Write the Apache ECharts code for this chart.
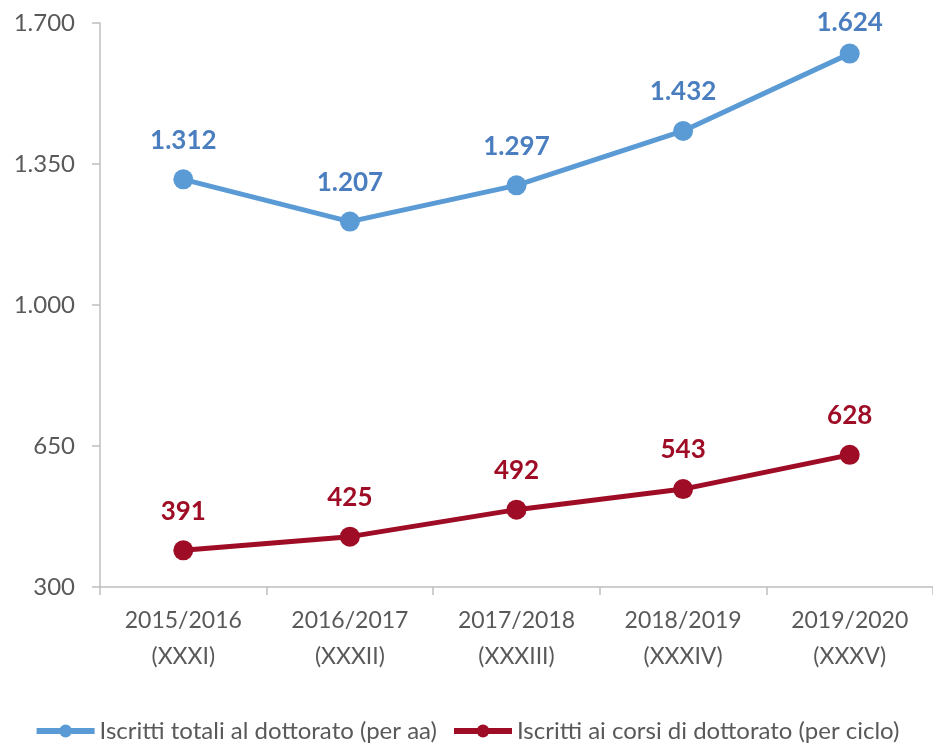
<!DOCTYPE html>
<html>
<head>
<meta charset="utf-8">
<script src="https://cdn.jsdelivr.net/npm/echarts@6/dist/echarts.min.js"></script>
<style>
  html, body { margin: 0; padding: 0; background: #fff; }
  #main { width: 933px; height: 748px; }
</style>
</head>
<body>
<div id="main"></div>
<script>
// anni accademici (ciclo)
var categories = ['2015/2016\n(XXXI)', '2016/2017\n(XXXII)', '2017/2018\n(XXXIII)', '2018/2019\n(XXXIV)', '2019/2020\n(XXXV)'];
var totali = [1312, 1207, 1297, 1432, 1624];
var perCiclo = [391, 425, 492, 543, 628];
var seriesNames = ['Iscritti totali al dottorato (per aa)', 'Iscritti ai corsi di dottorato (per ciclo)'];

function fmt(v) {
  // separatore migliaia italiano
  return String(v).replace(/\B(?=(\d{3})+(?!\d))/g, '.');
}

// ultima etichetta più vicina al punto (come nell'originale, per stare nel riquadro)
var totaliData = totali.map(function (v, i) {
  return i === totali.length - 1 ? { value: v, label: { distance: 8 } } : v;
});

var chart = echarts.init(document.getElementById('main'));

chart.setOption({
  animation: false,
  textStyle: { fontFamily: 'Lato' },
  grid: { left: 100, right: -2, top: 23, bottom: 161 },
  legend: {
    bottom: 0,
    left: 'center',
    itemWidth: 58,
    itemHeight: 16,
    itemGap: 14,
    lineStyle: { width: 6 },
    textStyle: { fontSize: 24, color: '#595959', fontFamily: 'Lato' },
    data: seriesNames
  },
  xAxis: {
    type: 'category',
    data: categories,
    axisLine: { lineStyle: { color: '#bfbfbf', width: 1.5 } },
    axisTick: { show: true, length: 8, lineStyle: { color: '#bfbfbf', width: 1.5 } },
    axisLabel: { fontSize: 23, color: '#595959', lineHeight: 36, margin: 16 }
  },
  yAxis: {
    type: 'value',
    min: 300,
    max: 1700,
    interval: 350,
    axisLine: { show: true, lineStyle: { color: '#bfbfbf', width: 1.5 } },
    axisTick: { show: true, length: 8, lineStyle: { color: '#bfbfbf', width: 1.5 } },
    splitLine: { show: false },
    axisLabel: { fontSize: 24, color: '#595959', margin: 25, formatter: fmt }
  },
  series: [
    {
      name: seriesNames[0],
      type: 'line',
      data: totaliData,
      symbol: 'circle',
      symbolSize: 20,
      lineStyle: { width: 5, color: '#5b9bd5' },
      itemStyle: { color: '#5b9bd5' },
      label: {
        show: true,
        position: 'top',
        distance: 16,
        fontSize: 26,
        fontWeight: 'bold',
        color: '#4a7ebf',
        formatter: function (p) { return fmt(p.value); }
      }
    },
    {
      name: seriesNames[1],
      type: 'line',
      data: perCiclo,
      symbol: 'circle',
      symbolSize: 20,
      lineStyle: { width: 5, color: '#9e0d25' },
      itemStyle: { color: '#9e0d25' },
      label: {
        show: true,
        position: 'top',
        distance: 16,
        fontSize: 26,
        fontWeight: 'bold',
        color: '#9e0d25',
        formatter: function (p) { return fmt(p.value); }
      }
    }
  ]
});
</script>
</body>
</html>
